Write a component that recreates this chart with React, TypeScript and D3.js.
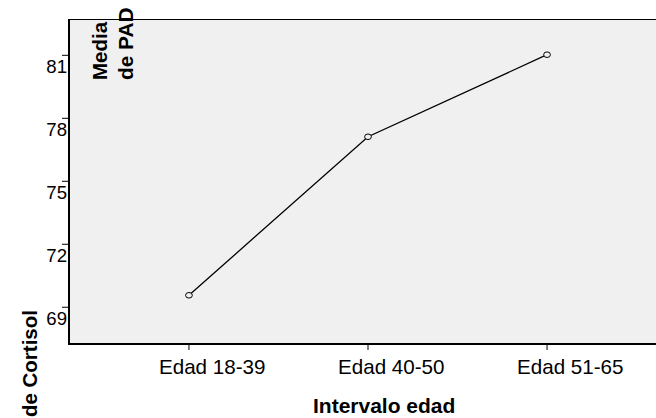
import React from "react";
import * as d3 from "d3";

const categories = ["Edad 18-39", "Edad 40-50", "Edad 51-65"];
const values = [69.57, 77.12, 81.03];
const yTicks = [69, 72, 75, 78, 81];
const xTitle = "Intervalo edad";
const yTitleParts = ["Media", "de PAD", "de Cortisol"];

const W = 656;
const H = 418;
const left = 69;
const top = 19;
const bottom = 344;
const right = 667;

export default function App() {
  const x = d3.scalePoint<string>().domain(categories).range([left, right]).padding(0.67);
  const y = d3.scaleLinear().domain([67.25, 82.73]).range([bottom, top]);
  const line = d3
    .line<number>()
    .x((_, i) => x(categories[i]) as number)
    .y((d) => y(d));
  const font = "'Liberation Sans', Arial, sans-serif";
  return (
    <svg
      width={W}
      height={H}
      style={{ position: "absolute", left: 0, top: 0, background: "#fff" }}
      fontFamily={font}
    >
      <rect x={left} y={top} width={right - left} height={bottom - top} fill="#f0f0f0" />
      <line x1={left} x2={right} y1={top + 0.5} y2={top + 0.5} stroke="#000" strokeWidth={1} />
      <line x1={left} x2={left} y1={top} y2={bottom + 1} stroke="#000" strokeWidth={2} />
      <line x1={left - 1} x2={right} y1={bottom} y2={bottom} stroke="#000" strokeWidth={2} />
      {yTicks.map((t) => (
        <g key={t}>
          <line x1={left - 7} x2={left} y1={y(t)} y2={y(t)} stroke="#000" strokeWidth={1} />
          <text x={67} y={y(t) + 18} textAnchor="end" fontSize={18.6} fill="#000">
            {t}
          </text>
        </g>
      ))}
      {categories.map((c) => (
        <g key={c}>
          <line x1={x(c)} x2={x(c)} y1={bottom} y2={bottom + 6} stroke="#000" strokeWidth={1} />
          <text x={(x(c) as number) - 30} y={374} fontSize={20.6} fill="#000">
            {c}
          </text>
        </g>
      ))}
      <path d={line(values) || ""} fill="none" stroke="#000" strokeWidth={1.3} />
      {values.map((v, i) => (
        <ellipse
          key={i}
          cx={x(categories[i])}
          cy={y(v)}
          rx={3.4}
          ry={2.8}
          fill="#f0f0f0"
          stroke="#000"
          strokeWidth={1}
        />
      ))}
      <text x={313} y={413} fontSize={21} fontWeight="bold" fill="#000">
        {xTitle}
      </text>
      <text transform="translate(107,80) rotate(-90)" fontSize={20.5} fontWeight="bold" fill="#000">
        {yTitleParts[0]}
      </text>
      <text transform="translate(133,80) rotate(-90)" fontSize={20.8} fontWeight="bold" fill="#000">
        {yTitleParts[1]}
      </text>
      <text
        transform="translate(36.5,310) rotate(-90)"
        textAnchor="end"
        fontSize={20.5}
        fontWeight="bold"
        fill="#000"
      >
        {yTitleParts[2]}
      </text>
    </svg>
  );
}
